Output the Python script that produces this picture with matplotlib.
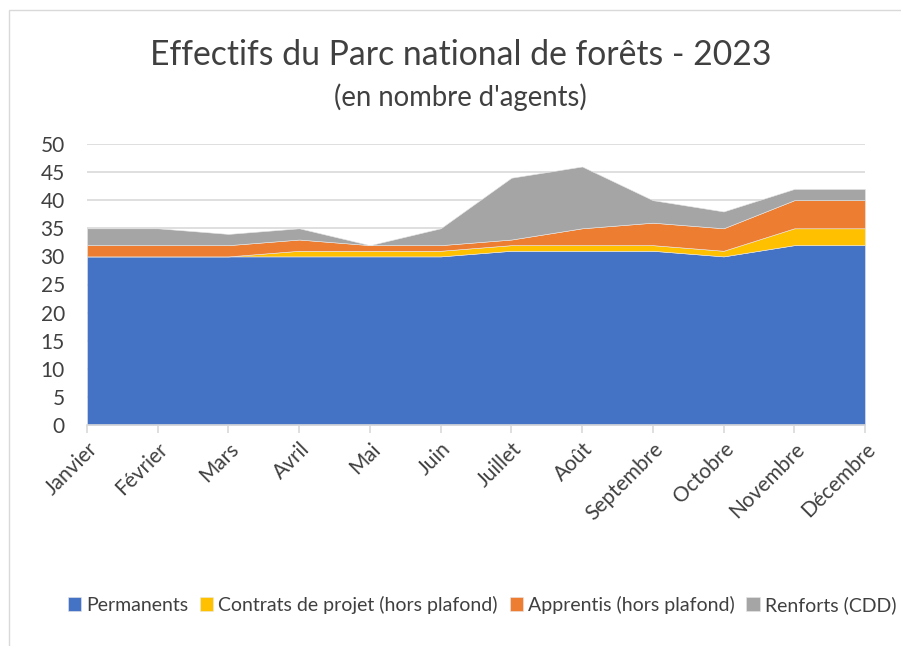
import matplotlib.pyplot as plt
import numpy as np
from matplotlib.patches import Rectangle

plt.rcParams['font.family'] = ['Lato', 'DejaVu Sans']

mois = ["Janvier", "Février", "Mars", "Avril", "Mai", "Juin", "Juillet",
        "Août", "Septembre", "Octobre", "Novembre", "Décembre"]
permanents = [30, 30, 30, 30, 30, 30, 31, 31, 31, 30, 32, 32]
contrats = [0, 0, 0, 1, 1, 1, 1, 1, 1, 1, 3, 3]
apprentis = [2, 2, 2, 2, 1, 1, 1, 3, 4, 4, 5, 5]
renforts = [3, 3, 2, 2, 0, 3, 11, 11, 4, 3, 2, 2]

series_noms = ["Permanents", "Contrats de projet (hors plafond)",
               "Apprentis (hors plafond)", "Renforts (CDD)"]
couleurs = ["#4472C4", "#FFC000", "#ED7D31", "#A5A5A5"]

fig = plt.figure(figsize=(9.01, 6.46), dpi=100)
W, H = 901, 646
ax = fig.add_axes([87 / W, 1 - 425 / H, (865 - 87) / W, (425 - 144) / H])

x = np.arange(len(mois))
ax.stackplot(x, permanents, contrats, apprentis, renforts,
             colors=couleurs, labels=series_noms, linewidth=0.4,
             edgecolor="#e8e8e8", zorder=2)

ax.set_xlim(0, len(mois) - 1)
ax.set_ylim(0, 50)
ax.set_yticks(range(0, 51, 5))
ax.yaxis.grid(True, color="#d9d9d9", linewidth=1.2, zorder=0)
ax.set_axisbelow(True)
for s in ["top", "right", "left"]:
    ax.spines[s].set_visible(False)
ax.spines["bottom"].set_color("#d9d9d9")
ax.spines["bottom"].set_linewidth(1.2)
ax.spines["bottom"].set_zorder(3)
ax.tick_params(axis="y", length=0, labelsize=15, colors="#404040", pad=16)
ax.tick_params(axis="x", length=6, color="#d9d9d9", width=1.2,
               labelsize=15, labelcolor="#404040", pad=4)
ax.set_xticks(x)
ax.set_xticklabels(mois, rotation=45, ha="right", rotation_mode="anchor")

fig.text(461 / W, 1 - 55 / H, "Effectifs du Parc national de forêts - 2023",
         ha="center", va="center", fontsize=24.3, color="#404040")
fig.text(460 / W, 1 - 97 / H, "(en nombre d'agents)",
         ha="center", va="center", fontsize=19.8, color="#404040")

handles, labels = ax.get_legend_handles_labels()
fig.legend(handles, labels, loc="center", bbox_to_anchor=(482 / W, 1 - 605 / H),
           ncol=4, frameon=False, fontsize=14, handlelength=0.7,
           handleheight=0.7, handletextpad=0.25, columnspacing=0.6,
           labelcolor="#404040")

fig.patches.append(Rectangle((9 / W, -0.05), 1.0, 1 - 10 / H + 0.05,
                             transform=fig.transFigure, fill=False,
                             edgecolor="#d9d9d9", linewidth=1))

fig.savefig("out.png", dpi=100)
